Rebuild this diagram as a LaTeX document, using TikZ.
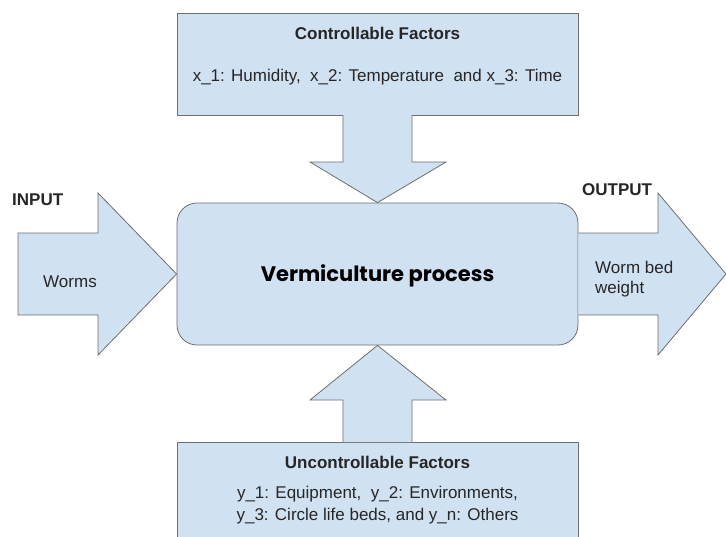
\documentclass[tikz,border=0pt]{standalone}
\usepackage{fontspec}
\setmainfont{Liberation Sans}
\newfontfamily\procfont{Poppins}
\begin{document}
\begin{tikzpicture}[x=1pt,y=-1pt,
  blk/.style={draw=strokegray, fill=boxblue, line width=0.8pt},
  txt/.style={text=txtgray, font=\fontsize{17}{21}\selectfont, inner sep=0pt},
  btxt/.style={text=txtgray, font=\fontsize{17}{21}\selectfont\bfseries, inner sep=0pt}]
\definecolor{boxblue}{HTML}{D0E1F2}
\definecolor{strokegray}{HTML}{6E6E6E}
\definecolor{txtgray}{HTML}{262626}
\useasboundingbox (0,0) rectangle (726,536);
\clip (0,0) rectangle (726,536);
% boxes
\node[blk, minimum width=401pt, minimum height=102pt, inner sep=0pt] (ctrl) at (377.5,64) {};
\node[blk, rounded corners=20pt, minimum width=401pt, minimum height=142pt, inner sep=0pt] (proc) at (377.5,274) {};
\node[blk, minimum width=401pt, minimum height=130pt, inner sep=0pt] (unc) at (377.5,507) {};
% down arrow
\coordinate (dtip) at (proc.north);
\draw[blk, line join=miter] (343,115) -- (343,162) -- (310,162) -- (dtip) -- (446,162) -- (412,162) -- (412,115);
% up arrow
\coordinate (utip) at (proc.south);
\draw[blk, line join=miter] (343,442) -- (343,400) -- (310,400) -- (utip) -- (446,400) -- (412,400) -- (412,442);
% input arrow
\coordinate (itip) at (proc.west);
\draw[blk, line join=miter] (18,233) -- (98,233) -- (98,193) -- (itip) -- (98,355) -- (98,315) -- (18,315) -- cycle;
% output arrow
\coordinate (otip) at (726,274);
\draw[blk, line join=miter] (proc.east |- 0,233) -- (658,233) -- (658,193) -- (otip) -- (658,355) -- (658,315) -- (proc.east |- 0,315);
% texts
\node[btxt] (ctitle) at (377.5,33) {Controllable Factors};
\node[txt] (cline) at (377.5,77) {x\_1: Humidity,\ \ x\_2: Temperature\ \ and x\_3: Time};
\node[text=black, font=\fontsize{21}{25}\procfont\bfseries, inner sep=0pt] (ptext) at (377.5,276) {Vermiculture process};
\node[btxt] (utitle) at (377.5,462) {Uncontrollable Factors};
\node[txt, align=center, font=\fontsize{17}{22}\selectfont] (uline) at (377.5,505) {y\_1: Equipment,\ \ y\_2: Environments,\\y\_3: Circle life beds, and y\_n: Others};
\node[btxt, anchor=west] (inlab) at (12,200) {INPUT};
\node[txt] (worms) at (70,282) {Worms};
\node[btxt, anchor=west] (outlab) at (582,190) {OUTPUT};
\node[txt, align=left, anchor=west, font=\fontsize{17}{20}\selectfont] (wbw) at (595,279) {Worm bed\\weight};
\end{tikzpicture}
\end{document}
